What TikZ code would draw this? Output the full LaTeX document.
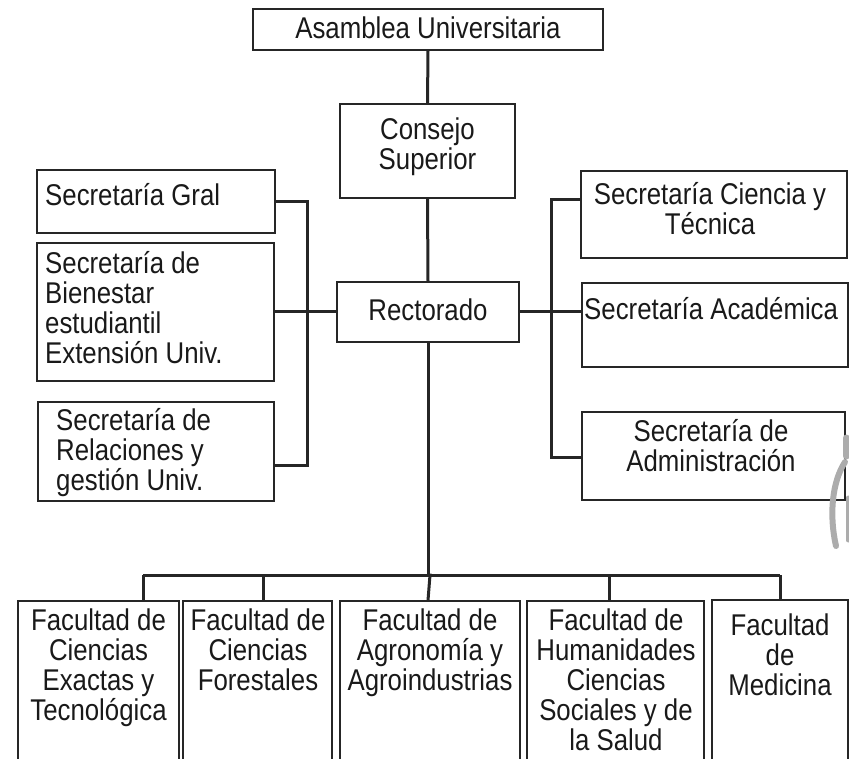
\documentclass[tikz,border=0pt]{standalone}
\usepackage{fontspec}
\setmainfont{Liberation Sans}[FakeStretch=0.86]
\usetikzlibrary{calc}
\begin{document}
\begin{tikzpicture}[x=1pt,y=-1pt,
  box/.style={draw=black!85, line width=1.4pt, rectangle, inner sep=0pt},
  txt/.style={inner sep=0pt, font=\fontsize{30}{30}\selectfont, text=black!90},
  conn/.style={draw=black!85, line width=3pt}]
\useasboundingbox (0,0) rectangle (849,759);
\clip (0,0) rectangle (849,759);
% boxes: center, width, height
\node[box, minimum width=350, minimum height=41] (asam) at (428,29.5) {};
\node[box, minimum width=175, minimum height=94] (cons) at (427.5,151) {};
\node[box, minimum width=182, minimum height=60] (rect) at (428,312) {};
\node[box, minimum width=238, minimum height=63] (gral) at (156,201.5) {};
\node[box, minimum width=237, minimum height=138] (bien) at (155.5,312) {};
\node[box, minimum width=236, minimum height=99] (rel) at (156,451.5) {};
\node[box, minimum width=266, minimum height=87] (cien) at (714,214.5) {};
\node[box, minimum width=266, minimum height=84] (acad) at (715,325) {};
\node[box, minimum width=263, minimum height=88] (adm) at (713.5,456) {};
\node[box, minimum width=161, minimum height=200] (f1) at (98.5,701) {};
\node[box, minimum width=149, minimum height=200] (f2) at (257.5,701) {};
\node[box, minimum width=180, minimum height=200] (f3) at (430,701) {};
\node[box, minimum width=177, minimum height=200] (f4) at (615.5,701) {};
\node[box, minimum width=136, minimum height=200] (f5) at (780,700) {};
% texts
\node[txt] (tasam) at (428,28) {Asamblea Universitaria};
\node[txt, align=center] (tcons) at (427.5,147) {Consejo\\Superior};
\node[txt] (trect) at (428,310) {Rectorado};
\node[txt, anchor=west] (tgral) at (45,195) {Secretaría Gral};
\node[txt, align=left, anchor=west] (tbien) at (45,308) {Secretaría de\\Bienestar\\estudiantil\\Extensión Univ.};
\node[txt, align=left, anchor=west] (trel) at (56,453) {Secretaría de\\Relaciones y\\gestión Univ.};
\node[txt, align=center] (tcien) at (710,209) {Secretaría Ciencia y\\Técnica};
\node[txt, anchor=west] (tacad) at (584,309) {Secretaría Académica};
\node[txt, align=center] (tadm) at (711,446) {Secretaría de\\Administración};
\node[txt, align=center, anchor=north] (tf1) at (98.5,609) {Facultad de\\Ciencias\\Exactas y\\Tecnológica};
\node[txt, align=center, anchor=north] (tf2) at (258,609) {Facultad de\\Ciencias\\Forestales};
\node[txt, align=center, anchor=north] (tf3) at (430,609) {Facultad de\\Agronomía y\\Agroindustrias};
\node[txt, align=center, anchor=north] (tf4) at (616,609) {Facultad de\\Humanidades\\Ciencias\\Sociales y de\\la Salud};
\node[txt, align=center, anchor=north] (tf5) at (780,614) {Facultad\\de\\Medicina};
% junctions
\coordinate (lb1) at (307,202);
\coordinate (lb2) at (307,465);
\coordinate (rb1) at (551,200);
\coordinate (rb2) at (551,457);
\coordinate (bb) at (428,575);
\coordinate (d1) at (143,575);
\coordinate (d2) at (263,575);
\coordinate (d4) at (609,575);
\coordinate (d5) at (780,575);
% connectors
\draw[conn] (asam.south) -- (cons.north);
\draw[conn] (cons.south) -- (rect.north);
\draw[conn] (rect.south) -- (bb);
\draw[conn] (bien.east) -- (rect.west);
\draw[conn] (rect.east) -- (acad.west |- rect.east);
\draw[conn] (gral.east |- lb1) -- (lb1) -- (lb2) -- (rel.east |- lb2);
\draw[conn] (cien.west |- rb1) -- (rb1) -- (rb2) -- (adm.west |- rb2);
\draw[conn] (d1) -- (d5);
\draw[conn] (d1) -- (d1 |- f1.north);
\draw[conn] (d2) -- (d2 |- f2.north);
\draw[conn] (bb) -- (f3.north |- bb) -- (bb |- f3.north);
\draw[conn] (d4) -- (d4 |- f4.north);
\draw[conn] (d5) -- (d5 |- f5.north);
% grey fragment at right edge
\draw[gray!65, line width=7pt, line cap=round] (846,438) -- (846,456);
\draw[gray!65, line width=6pt, line cap=round] (845,462) .. controls (832,482) and (829,515) .. (836,546);
\draw[gray!65, line width=5pt, line cap=round] (848,498) -- (848,540);
\end{tikzpicture}
\end{document}
